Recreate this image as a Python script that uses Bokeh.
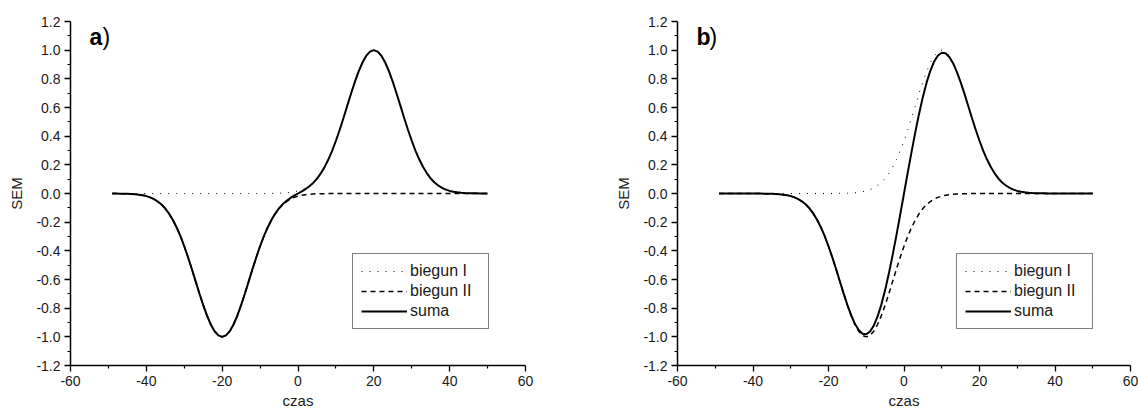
from bokeh.plotting import figure
from bokeh.layouts import row
from bokeh.models import (FixedTicker, PrintfTickFormatter, Legend, LegendItem,
                          Label, Range1d, ColumnDataSource)
from bokeh.embed import file_html
from bokeh.resources import INLINE

# ---- data ----
czas = list(range(-49, 51))

a_biegun_I = [0] * 42 + [
    0.001, 0.001, 0.002, 0.003, 0.005, 0.008, 0.012, 0.018, 0.027, 0.039, 0.056, 0.077,
    0.105, 0.141, 0.185, 0.237, 0.298, 0.368, 0.445, 0.527, 0.613, 0.698, 0.779, 0.852,
    0.914, 0.961, 0.990, 1.000, 0.990, 0.961, 0.914, 0.852, 0.779, 0.698, 0.613, 0.527,
    0.445, 0.368, 0.298, 0.237, 0.185, 0.141, 0.105, 0.077, 0.056, 0.039, 0.027, 0.018,
    0.012, 0.008, 0.005, 0.003, 0.002, 0.001, 0.001] + [0] * 3

a_biegun_II = [0] * 2 + [
    -0.001, -0.001, -0.002, -0.003, -0.005, -0.008, -0.012, -0.018, -0.027, -0.039,
    -0.056, -0.077, -0.105, -0.141, -0.185, -0.237, -0.298, -0.368, -0.445, -0.527,
    -0.613, -0.698, -0.779, -0.852, -0.914, -0.961, -0.990, -1.000, -0.990, -0.961,
    -0.914, -0.852, -0.779, -0.698, -0.613, -0.527, -0.445, -0.368, -0.298, -0.237,
    -0.185, -0.141, -0.105, -0.077, -0.056, -0.039, -0.027, -0.018, -0.012, -0.008,
    -0.005, -0.003, -0.002, -0.001, -0.001] + [0] * 43

a_suma = [0] * 2 + [
    -0.001, -0.001, -0.002, -0.003, -0.005, -0.008, -0.012, -0.018, -0.027, -0.039,
    -0.056, -0.077, -0.105, -0.141, -0.185, -0.237, -0.298, -0.368, -0.445, -0.527,
    -0.613, -0.698, -0.779, -0.852, -0.914, -0.961, -0.990, -1.000, -0.990, -0.961,
    -0.914, -0.852, -0.779, -0.698, -0.613, -0.527, -0.445, -0.368, -0.298, -0.237,
    -0.184, -0.140, -0.103, -0.074, -0.051, -0.031, -0.015, 0.000, 0.015, 0.031,
    0.051, 0.074, 0.103, 0.140, 0.184,
    0.237, 0.298, 0.368, 0.445, 0.527, 0.613, 0.698, 0.779, 0.852, 0.914, 0.961, 0.990,
    1.000, 0.990, 0.961, 0.914, 0.852, 0.779, 0.698, 0.613, 0.527, 0.445, 0.368, 0.298,
    0.237, 0.185, 0.141, 0.105, 0.077, 0.056, 0.039, 0.027, 0.018, 0.012, 0.008, 0.005,
    0.003, 0.002, 0.001, 0.001] + [0] * 3

b_biegun_I = [0] * 32 + [
    0.001, 0.001, 0.002, 0.003, 0.005, 0.008, 0.012, 0.018, 0.027, 0.039, 0.056, 0.077,
    0.105, 0.141, 0.185, 0.237, 0.298, 0.368, 0.445, 0.527, 0.613, 0.698, 0.779, 0.852,
    0.914, 0.961, 0.990, 1.000, 0.990, 0.961, 0.914, 0.852, 0.779, 0.698, 0.613, 0.527,
    0.445, 0.368, 0.298, 0.237, 0.185, 0.141, 0.105, 0.077, 0.056, 0.039, 0.027, 0.018,
    0.012, 0.008, 0.005, 0.003, 0.002, 0.001, 0.001] + [0] * 13

b_biegun_II = [0] * 12 + [
    -0.001, -0.001, -0.002, -0.003, -0.005, -0.008, -0.012, -0.018, -0.027, -0.039,
    -0.056, -0.077, -0.105, -0.141, -0.185, -0.237, -0.298, -0.368, -0.445, -0.527,
    -0.613, -0.698, -0.779, -0.852, -0.914, -0.961, -0.990, -1.000, -0.990, -0.961,
    -0.914, -0.852, -0.779, -0.698, -0.613, -0.527, -0.445, -0.368, -0.298, -0.237,
    -0.185, -0.141, -0.105, -0.077, -0.056, -0.039, -0.027, -0.018, -0.012, -0.008,
    -0.005, -0.003, -0.002, -0.001, -0.001] + [0] * 33

b_suma = [0] * 12 + [
    -0.001, -0.001, -0.002, -0.003, -0.005, -0.008, -0.012, -0.018, -0.027, -0.039,
    -0.056, -0.077, -0.105, -0.141, -0.185, -0.237, -0.298, -0.368, -0.445, -0.527,
    -0.612, -0.697, -0.777, -0.849, -0.909, -0.953, -0.978, -0.982, -0.963, -0.922,
    -0.858, -0.775, -0.674, -0.557, -0.428, -0.290, -0.147, 0.000, 0.147, 0.290,
    0.428, 0.557, 0.674, 0.775, 0.858, 0.922, 0.963, 0.982, 0.978, 0.953, 0.909,
    0.849, 0.777, 0.697, 0.612,
    0.527, 0.445, 0.368, 0.298, 0.237, 0.185, 0.141, 0.105, 0.077, 0.056, 0.039, 0.027,
    0.018, 0.012, 0.008, 0.005, 0.003, 0.002, 0.001, 0.001] + [0] * 13

x_ticks = [-60, -40, -20, 0, 20, 40, 60]
x_minor = [-50, -30, -10, 10, 30, 50]
y_ticks = [-1.2, -1.0, -0.8, -0.6, -0.4, -0.2, 0.0, 0.2, 0.4, 0.6, 0.8, 1.0, 1.2]
y_minor = [-1.1, -0.9, -0.7, -0.5, -0.3, -0.1, 0.1, 0.3, 0.5, 0.7, 0.9, 1.1]
legend_labels = ["biegun I", "biegun II", "suma"]

FONT = "Liberation Sans"
TXT = "#1a1a1a"


def make_panel(tag, b1, b2, s, width, border_right, legend_x):
    p = figure(width=width, height=411, output_backend="svg", toolbar_location=None,
               x_range=Range1d(-60, 60), y_range=Range1d(-1.2, 1.2),
               min_border_left=70, min_border_right=border_right,
               min_border_top=21, min_border_bottom=46)
    p.outline_line_color = None
    p.grid.visible = False
    p.background_fill_color = "white"
    p.border_fill_color = "white"

    src = ColumnDataSource(dict(x=czas, b1=b1, b2=b2, s=s))
    r1 = p.line("x", "b1", source=src, line_color="black", line_width=1, line_dash="1 7")
    r2 = p.line("x", "b2", source=src, line_color="black", line_width=1.5, line_dash="5 4")
    r3 = p.line("x", "s", source=src, line_color="black", line_width=2)

    for ax in (p.xaxis[0], p.yaxis[0]):
        ax.axis_line_color = "black"
        ax.axis_line_width = 1.5
        ax.major_tick_line_color = "black"
        ax.major_tick_line_width = 1.3
        ax.minor_tick_line_color = "black"
        ax.minor_tick_line_width = 1.2
        ax.major_tick_in = 0
        ax.major_tick_out = 6
        ax.minor_tick_in = 0
        ax.minor_tick_out = 3
        ax.major_label_text_font = FONT
        ax.major_label_text_font_size = "14px"
        ax.major_label_text_color = TXT
        ax.axis_label_text_font = FONT
        ax.axis_label_text_font_size = "15px"
        ax.axis_label_text_font_style = "normal"
        ax.axis_label_text_color = TXT

    p.xaxis.ticker = FixedTicker(ticks=x_ticks, minor_ticks=x_minor)
    p.xaxis.formatter = PrintfTickFormatter(format="%d")
    p.xaxis.axis_label = "czas"
    p.xaxis.major_label_standoff = 4
    p.xaxis.axis_label_standoff = 3

    p.yaxis.ticker = FixedTicker(ticks=y_ticks, minor_ticks=y_minor)
    p.yaxis.formatter = PrintfTickFormatter(format="%.1f")
    p.yaxis.axis_label = "SEM"
    p.yaxis.major_label_standoff = 4
    p.yaxis.axis_label_standoff = 8

    legend = Legend(items=[LegendItem(label=legend_labels[0], renderers=[r1]),
                           LegendItem(label=legend_labels[1], renderers=[r2]),
                           LegendItem(label=legend_labels[2], renderers=[r3])],
                    location=(legend_x, 36))
    legend.margin = 0
    legend.padding = 8
    legend.spacing = 2
    legend.glyph_width = 46
    legend.glyph_height = 18
    legend.label_height = 18
    legend.label_width = 70
    legend.label_standoff = 3
    legend.label_text_font = FONT
    legend.label_text_font_size = "16px"
    legend.label_text_color = TXT
    legend.border_line_color = "black"
    legend.border_line_width = 1
    legend.background_fill_color = "white"
    legend.background_fill_alpha = 1
    p.add_layout(legend)

    p.add_layout(Label(x=-55, y=1.095, text=tag, text_font=FONT, text_font_style="bold",
                       text_font_size="23px", text_color="black",
                       text_baseline="alphabetic"))
    p.add_layout(Label(x=-55, y=1.095, x_offset=13, text=")", text_font=FONT,
                       text_font_style="normal", text_font_size="23px",
                       text_color="black", text_baseline="alphabetic"))
    return p


pa = make_panel("a", a_biegun_I, a_biegun_II, a_suma, 607, 82, 282)
pb = make_panel("b", b_biegun_I, b_biegun_II, b_suma, 531, 8, 279)

layout = row(pa, pb)
open("out.html", "w").write(file_html(layout, INLINE))
